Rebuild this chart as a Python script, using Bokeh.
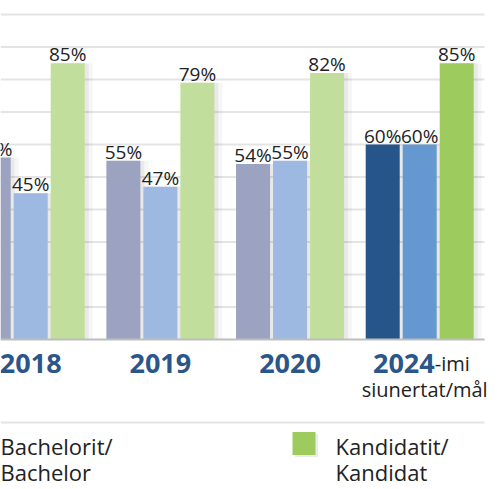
from bokeh.plotting import figure
from bokeh.models import Range1d, ColumnDataSource
from bokeh.core.properties import value
from bokeh.embed import file_html
from bokeh.resources import INLINE

# ---------------- data ----------------
years = ["2018", "2019", "2020", "2024"]
target_year = "2024"
series_total = [56, 55, 54, 60]
series_bachelor = [45, 47, 55, 60]
series_kandidat = [85, 79, 82, 85]
grid_ticks = [0, 10, 20, 30, 40, 50, 60, 70, 80, 90, 100]
legend_labels = [["Bachelorit/", "Bachelor"], ["Kandidatit/", "Kandidat"]]
target_suffix = "-imi"
target_note = "siunertat/mål"

# ---------------- styles ----------------
base_colors = ["#9BA3C1", "#9DB9E1", "#C2DE9C"]
target_colors = ["#265689", "#6598D1", "#9ECB5E"]
year_color = "#2A5689"
text_color = "#222222"
FONT = "Open Sans"

W, H = 497, 489
KX = 129.67          # px per category
KY = 3.25            # px per percent
PAGE_X0 = 0
PAGE_Y0 = 0
ZERO_PAGE_Y = 339
FIRST_CENTER_PAGE_X = 30.2

XS = -(FIRST_CENTER_PAGE_X - PAGE_X0) / KX
XE = XS + W / KX
YE = (ZERO_PAGE_Y - PAGE_Y0) / KY
YS = -(PAGE_Y0 + H - ZERO_PAGE_Y) / KY


def dx(px):
    return XS + (px - PAGE_X0) / KX


def dy(py):
    return (ZERO_PAGE_Y - py) / KY


offset = 37 / KX
bar_w = 34 / KX

p = figure(width=W, height=H, x_range=Range1d(XS, XE), y_range=Range1d(YS, YE),
           output_backend="svg", toolbar_location=None, min_border=0,
           min_border_left=0, min_border_right=0, min_border_top=0, min_border_bottom=0)
p.axis.visible = False
p.xgrid.visible = False
p.ygrid.visible = False
p.outline_line_color = None
p.background_fill_color = "white"
p.border_fill_color = "white"

x_end = len(years) - 0.5

# grid lines
for g in grid_ticks[1:]:
    p.segment(x0=XS, x1=x_end, y0=g, y1=g, line_color="#e4e4e4", line_width=2)

# bars
xs_all, tops, cols, labs = [], [], [], []
for j, vals in enumerate([series_total, series_bachelor, series_kandidat]):
    for i, v in enumerate(vals):
        xs_all.append(i + (j - 1) * offset)
        tops.append(v)
        cols.append(target_colors[j] if years[i] == target_year else base_colors[j])
        labs.append(f"{v}%")
src = ColumnDataSource(dict(x=xs_all, top=tops, color=cols, label=labs,
                            xs1=[x + 4 / KX for x in xs_all],
                            xs2=[x + 8 / KX for x in xs_all]))

p.vbar(x="xs2", top="top", bottom=0, width=bar_w, source=src,
       fill_color="black", fill_alpha=0.035, line_color=None)
p.vbar(x="xs1", top="top", bottom=0, width=bar_w, source=src,
       fill_color="black", fill_alpha=0.05, line_color=None)
p.vbar(x="x", top="top", bottom=0, width=bar_w, source=src,
       fill_color="color", line_color=None)

# baseline
p.segment(x0=XS, x1=x_end, y0=grid_ticks[0], y1=grid_ticks[0], line_color="#bdbdbd", line_width=2)

# value labels
p.text(x="x", y="top", text="label", source=src, text_align="center",
       text_baseline="alphabetic", y_offset=-9, text_font=value(FONT),
       text_font_size="19px", text_color=text_color)

# category labels
YR_OFF = 24
for i, yr in enumerate(years):
    if yr == target_year:
        p.text(x=[i], y=[0], text=[yr], text_align="right", text_baseline="alphabetic",
               x_offset=15, y_offset=YR_OFF, text_font=value(FONT), text_font_style="bold",
               text_font_size="27px", text_color=year_color)
        p.text(x=[i], y=[0], text=[target_suffix], text_align="left", text_baseline="alphabetic",
               x_offset=15, y_offset=YR_OFF, text_font=value(FONT),
               text_font_size="20px", text_color=text_color)
        p.text(x=[i], y=[0], text=[target_note], text_align="center", text_baseline="alphabetic",
               x_offset=5, y_offset=50, text_font=value(FONT),
               text_font_size="20px", text_color=text_color)
    else:
        p.text(x=[i], y=[0], text=[yr], text_align="center", text_baseline="alphabetic",
               y_offset=YR_OFF, text_font=value(FONT), text_font_style="bold",
               text_font_size="27px", text_color=year_color)

# legend separator
p.segment(x0=XS, x1=x_end, y0=dy(422), y1=dy(422), line_color="#e4e4e4", line_width=2)

# legend
legend_text_px = [0, 335]
for (l1, l2), tx in zip(legend_labels, legend_text_px):
    p.text(x=[dx(tx)], y=[dy(445)], text=[l1], text_align="left", text_baseline="alphabetic",
           text_font=value(FONT), text_font_size="22px", text_color=text_color)
    p.text(x=[dx(tx)], y=[dy(471)], text=[l2], text_align="left", text_baseline="alphabetic",
           text_font=value(FONT), text_font_size="22px", text_color=text_color)

p.rect(x=[dx(306)], y=[dy(445)], width=23, height=23, width_units="screen",
       height_units="screen", fill_color="black", fill_alpha=0.08, line_color=None)
p.rect(x=[dx(303.5)], y=[dy(443)], width=23, height=23, width_units="screen",
       height_units="screen", fill_color=target_colors[2], line_color=None)

open("out.html", "w").write(file_html(p, INLINE))
